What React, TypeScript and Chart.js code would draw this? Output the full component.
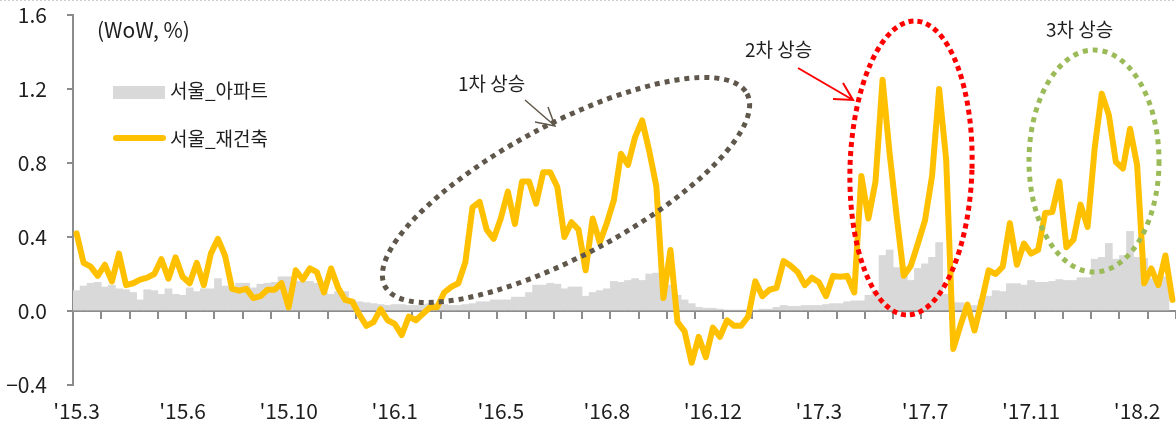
import { useEffect, useRef } from 'react';
import { Chart, registerables } from 'chart.js';

Chart.register(...registerables);

// 서울_재건축 weekly change (WoW, %)
const seoulRebuild: number[] = [
  0.42, 0.26, 0.24, 0.19, 0.25, 0.16, 0.31, 0.14, 0.15, 0.17,
  0.18, 0.20, 0.28, 0.175, 0.29, 0.185, 0.15, 0.26, 0.14, 0.31,
  0.39, 0.30, 0.12, 0.11, 0.12, 0.07, 0.08, 0.115, 0.115, 0.15,
  0.02, 0.22, 0.17, 0.23, 0.21, 0.10, 0.23, 0.125, 0.06, 0.05,
  -0.02, -0.08, -0.06, 0.01, -0.05, -0.07, -0.13, -0.03, -0.05, -0.015,
  0.02, 0.02, 0.10, 0.13, 0.15, 0.265, 0.56, 0.59, 0.44, 0.39,
  0.50, 0.645, 0.47, 0.70, 0.70, 0.58, 0.75, 0.75, 0.67, 0.40,
  0.48, 0.44, 0.22, 0.50, 0.37, 0.475, 0.60, 0.85, 0.79, 0.94,
  1.03, 0.865, 0.675, 0.07, 0.33, -0.06, -0.11, -0.28, -0.14, -0.25,
  -0.09, -0.14, -0.05, -0.08, -0.08, -0.03, 0.16, 0.08, 0.115, 0.125,
  0.27, 0.245, 0.21, 0.14, 0.18, 0.155, 0.08, 0.19, 0.185, 0.19,
  0.10, 0.73, 0.50, 0.70, 1.25, 0.85, 0.51, 0.19, 0.245, 0.365,
  0.49, 0.73, 1.20, 0.815, -0.205, -0.08, 0.035, -0.105, 0.05, 0.22,
  0.20, 0.24, 0.475, 0.25, 0.365, 0.31, 0.33, 0.53, 0.535, 0.70,
  0.345, 0.385, 0.575, 0.455, 0.88, 1.175, 1.06, 0.805, 0.77, 0.985,
  0.79, 0.15, 0.23, 0.14, 0.30, 0.06,
];

// 서울_아파트 weekly change (WoW, %)
const seoulApt: (number | null)[] = [
  0.11, 0.135, 0.15, 0.155, 0.13, 0.14, 0.12, 0.115, 0.10, 0.06,
  0.115, 0.11, 0.09, 0.12, 0.09, 0.085, 0.125, 0.105, 0.12, 0.12,
  0.175, 0.135, 0.125, 0.15, 0.15, 0.125, 0.145, 0.15, 0.155, 0.185,
  0.185, 0.16, 0.16, 0.16, 0.15, 0.10, 0.09, 0.105, 0.105, 0.06,
  0.05, 0.045, 0.04, 0.035, 0.03, 0.035, 0.035, 0.03, 0.03, 0.035,
  0.04, 0.04, 0.035, 0.03, 0.03, 0.035, 0.04, 0.05, 0.05, 0.06,
  0.06, 0.06, 0.075, 0.075, 0.10, 0.14, 0.14, 0.15, 0.145, 0.12,
  0.13, 0.13, 0.08, 0.10, 0.11, 0.12, 0.16, 0.155, 0.165, 0.175,
  0.165, 0.20, 0.205, 0.205, 0.14, 0.085, 0.06, 0.04, 0.02, 0.015,
  0.015, 0.01, 0.005, 0.005, 0.005, 0.005, 0.005, 0.01, 0.01, 0.02,
  0.03, 0.025, 0.025, 0.03, 0.03, 0.03, 0.035, 0.04, 0.04, 0.05,
  0.055, 0.055, 0.085, 0.11, 0.30, 0.33, 0.235, 0.23, 0.165, 0.23,
  0.255, 0.29, 0.37, 0.09, 0.045, 0.045, 0.025, 0.03, 0.06, 0.08,
  0.11, 0.105, 0.148, 0.148, 0.14, 0.165, 0.155, 0.155, 0.16, 0.17,
  0.165, 0.165, 0.18, 0.18, 0.28, 0.29, 0.365, 0.28, 0.30, 0.43,
  0.29, 0.285, 0.175, 0.18, 0.185, null,
];

// weekly categories (one per observation)
const categories: string[] = seoulRebuild.map((_, i) => `W${i + 1}`);

// x-axis labels shown every 15 weeks
const tickLabels: string[] = ["'15.3", "'15.6", "'15.10", "'16.1", "'16.5", "'16.8", "'16.12", "'17.3", "'17.7", "'17.11", "'18.2"];
const LABEL_EVERY = 15;
const TICK_EVERY = 4;

const yTicks: number[] = [-0.4, 0, 0.4, 0.8, 1.2, 1.6];

const AXIS_GRAY = '#8c8c8c';
const TEXT = '#1e1e1e';
const FONT = "'Noto Sans CJK KR', 'Noto Sans', sans-serif";

// tick marks hanging below the zero line, at category boundaries every TICK_EVERY weeks
const zeroTickPlugin = {
  id: 'zeroTicks',
  beforeDatasetsDraw(chart: any) {
    const xs = chart.scales.x;
    const ys = chart.scales.y;
    const ctx: CanvasRenderingContext2D = chart.ctx;
    const n = categories.length;
    const w = xs.getPixelForValue(1) - xs.getPixelForValue(0);
    const y0 = Math.round(ys.getPixelForValue(0));
    ctx.save();
    ctx.strokeStyle = AXIS_GRAY;
    ctx.lineWidth = 2;
    ctx.beginPath();
    for (let i = 0; i <= n; i += TICK_EVERY) {
      const px = Math.round(i < n ? xs.getPixelForValue(i) - w / 2 : xs.getPixelForValue(n - 1) + w / 2);
      ctx.moveTo(px, y0 + 1);
      ctx.lineTo(px, y0 + 8);
    }
    ctx.stroke();
    ctx.restore();
  },
};

const annotationPlugin = {
  id: 'annotations',
  afterDraw(chart: any) {
    const ctx: CanvasRenderingContext2D = chart.ctx;
    ctx.save();

    // faint dotted frame at the top
    ctx.strokeStyle = '#cfcfcf';
    ctx.lineWidth = 1;
    ctx.setLineDash([2, 2]);
    ctx.beginPath();
    ctx.moveTo(0, 0.5);
    ctx.lineTo(chart.width, 0.5);
    ctx.stroke();
    ctx.setLineDash([]);

    // unit
    ctx.fillStyle = TEXT;
    ctx.textBaseline = 'middle';
    ctx.textAlign = 'left';
    ctx.font = `21px ${FONT}`;
    ctx.fillText('(WoW, %)', 97, 30);

    // legend
    ctx.fillStyle = '#D9D9D9';
    ctx.fillRect(113, 86, 52, 13);
    ctx.strokeStyle = '#FFC000';
    ctx.lineWidth = 6;
    ctx.lineCap = 'round';
    ctx.beginPath();
    ctx.moveTo(116, 138);
    ctx.lineTo(163, 138);
    ctx.stroke();
    ctx.lineCap = 'butt';
    ctx.fillStyle = TEXT;
    ctx.font = `19px ${FONT}`;
    ctx.fillText('서울_아파트', 170, 91);
    ctx.fillText('서울_재건축', 170, 139);

    // labels
    ctx.fillText('1차 상승', 458, 84);
    ctx.fillText('2차 상승', 745, 50);
    ctx.fillText('3차 상승', 1046, 30);

    // ellipses
    const ellipse = (cx: number, cy: number, rx: number, ry: number, rot: number, color: string, dash: number[]) => {
      ctx.strokeStyle = color;
      ctx.lineWidth = 5;
      ctx.setLineDash(dash);
      ctx.beginPath();
      ctx.ellipse(cx, cy, rx, ry, rot, 0, Math.PI * 2);
      ctx.stroke();
      ctx.setLineDash([]);
    };
    ellipse(566, 190, 205, 66, (-28 * Math.PI) / 180, '#5F574B', [5, 5]);
    ellipse(911, 168, 61, 147, 0.03, '#FF0000', [5, 4]);
    ellipse(1094, 161, 65, 111, 0, '#9BBB59', [5, 5]);

    // arrows
    const arrow = (x1: number, y1: number, x2: number, y2: number, w1: [number, number], w2: [number, number], color: string, lw: number) => {
      ctx.strokeStyle = color;
      ctx.lineWidth = lw;
      ctx.beginPath();
      ctx.moveTo(x1, y1);
      ctx.lineTo(x2, y2);
      ctx.moveTo(w1[0], w1[1]);
      ctx.lineTo(x2, y2);
      ctx.lineTo(w2[0], w2[1]);
      ctx.stroke();
    };
    arrow(525, 100, 555, 126, [535, 122], [548, 107], '#5F574B', 1.5);
    arrow(798, 68, 853, 100, [833, 99], [843, 83], '#FF0000', 2);

    ctx.restore();
  },
};

export default function App() {
  const ref = useRef<HTMLCanvasElement>(null);

  useEffect(() => {
    const canvas = ref.current;
    if (!canvas) return;
    Chart.defaults.font.family = FONT;
    const chart = new Chart(canvas, {
      type: 'bar',
      data: {
        labels: categories,
        datasets: [
          {
            type: 'line',
            label: '서울_재건축',
            data: seoulRebuild,
            borderColor: '#FFC000',
            backgroundColor: '#FFC000',
            borderWidth: 6,
            pointRadius: 0,
            tension: 0,
            borderJoinStyle: 'round',
            borderCapStyle: 'round',
            order: 0,
            xAxisID: 'x',
            yAxisID: 'y',
          } as any,
          {
            type: 'bar',
            label: '서울_아파트',
            data: seoulApt,
            backgroundColor: '#D9D9D9',
            barPercentage: 1,
            categoryPercentage: 1,
            borderWidth: 0,
            order: 1,
            xAxisID: 'x',
            yAxisID: 'y',
          } as any,
        ],
      },
      options: {
        animation: false,
        responsive: false,
        maintainAspectRatio: false,
        layout: { padding: { top: 15, left: 0, right: 0, bottom: 0 } },
        plugins: { legend: { display: false }, tooltip: { enabled: false } },
        scales: {
          x: {
            type: 'category',
            position: { y: 0 } as any,
            offset: true,
            grid: {
              offset: true,
              drawOnChartArea: false,
              drawTicks: false,
              lineWidth: 2,
              color: 'rgba(0,0,0,0)',
            },
            border: { display: true, color: AXIS_GRAY, width: 2 },
            ticks: { display: false, autoSkip: false },
          },
          x2: {
            type: 'category',
            position: 'bottom',
            offset: true,
            grid: { display: false, drawTicks: false },
            border: { display: false },
            ticks: {
              autoSkip: false,
              maxRotation: 0,
              minRotation: 0,
              padding: 13,
              color: TEXT,
              font: { size: 21 },
              callback: (_v: any, i: number) => (i % LABEL_EVERY === 0 ? tickLabels[i / LABEL_EVERY] ?? '' : ''),
            },
            afterFit: (s: any) => {
              s.height = 40;
              s.paddingLeft = 0;
              s.paddingRight = 0;
            },
          } as any,
          y: {
            type: 'linear',
            position: 'left',
            min: -0.4,
            max: 1.6,
            grid: { drawOnChartArea: false, drawTicks: true, tickLength: 6, lineWidth: 2, color: AXIS_GRAY },
            border: { display: true, color: AXIS_GRAY, width: 2 },
            ticks: {
              padding: 20,
              color: TEXT,
              font: { size: 21 },
              callback: (v: any) => {
                const n = Number(v);
                const s = Math.abs(n).toFixed(1);
                return n < -1e-9 ? '\u2212' + s : s;
              },
            },
            afterBuildTicks: (s: any) => {
              s.ticks = yTicks.map((v) => ({ value: v }));
            },
            afterFit: (s: any) => {
              s.width = 73;
              s.paddingTop = 0;
              s.paddingBottom = 0;
            },
          },
        },
      },
      plugins: [zeroTickPlugin, annotationPlugin],
    });
    return () => chart.destroy();
  }, []);

  return (
    <div style={{ position: 'fixed', left: 0, top: 0, width: 1176, height: 425, background: '#fff' }}>
      <canvas ref={ref} width={1176} height={425} style={{ display: 'block', width: 1176, height: 425 }} />
    </div>
  );
}
